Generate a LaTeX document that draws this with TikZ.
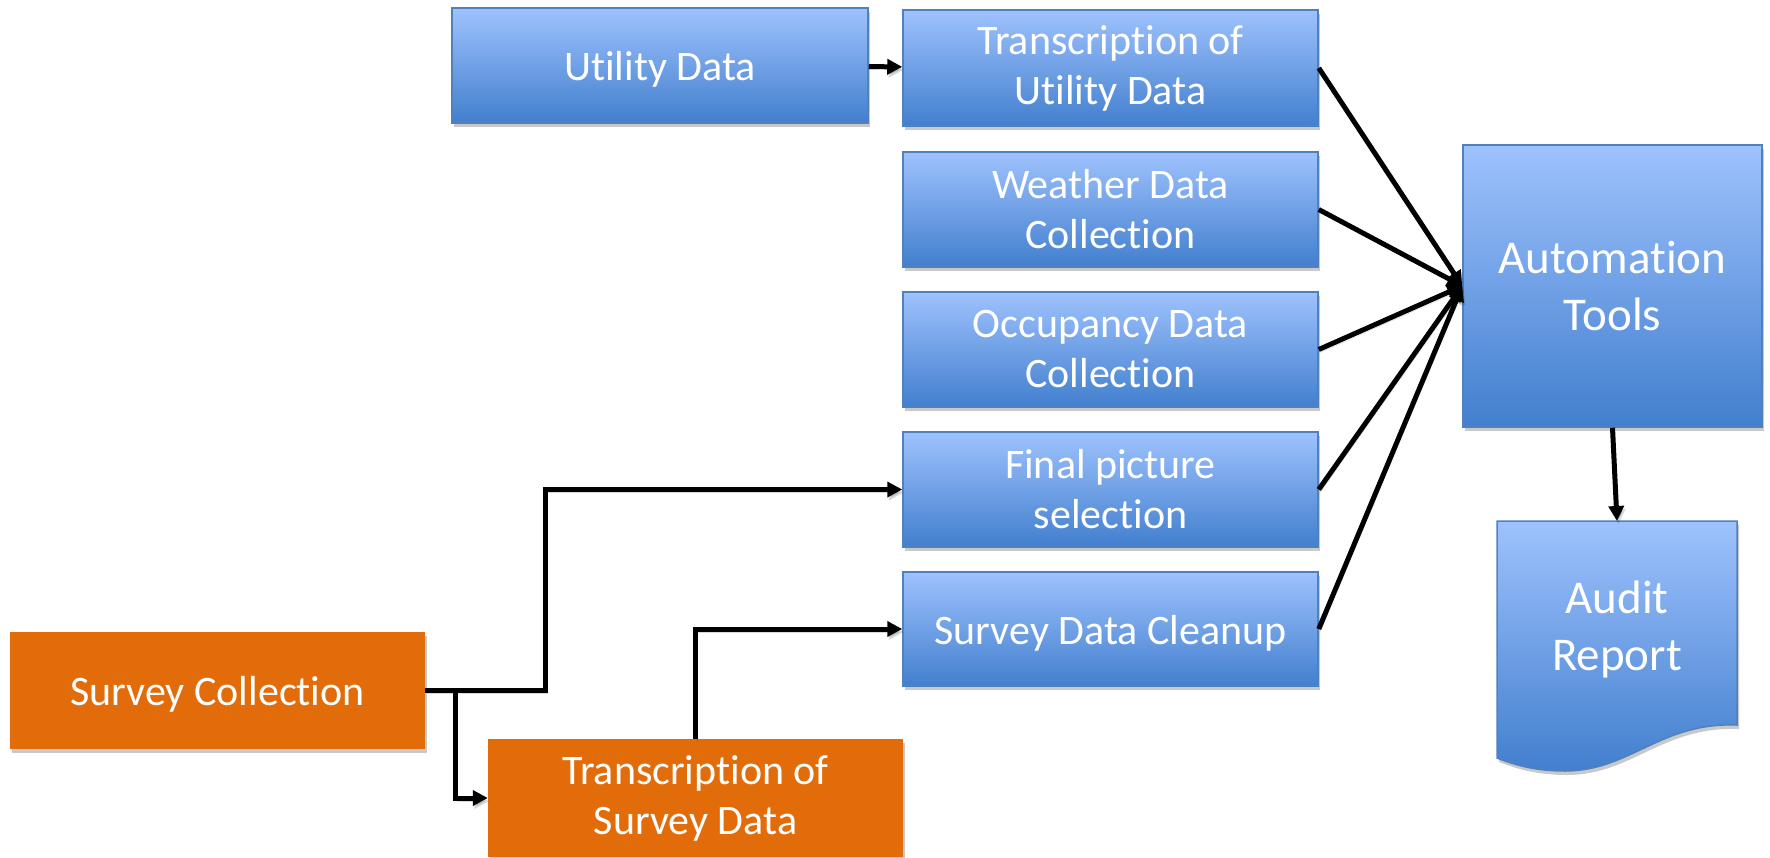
\documentclass[tikz,border=0pt]{standalone}
\usepackage{fontspec}
\setmainfont[Ligatures={NoCommon},RawFeature={-liga;-clig;-calt}]{Carlito}
\usetikzlibrary{arrows.meta,shadows}
\definecolor{bluetop}{RGB}{158,194,253}
\definecolor{bluebot}{RGB}{66,127,206}
\definecolor{blueedge}{RGB}{79,129,189}
\definecolor{orangefill}{RGB}{227,108,10}
\begin{document}
\begin{tikzpicture}[x=1pt,y=-1pt,
  boxshadow/.style={drop shadow={opacity=0.3,shadow xshift=2pt,shadow yshift=-4pt,fill=black!70}},
  bluebox/.style={rectangle, draw=blueedge, line width=1.5pt, top color=bluetop, bottom color=bluebot,
    text=white, align=center, font=\fontsize{42}{50}\selectfont, inner sep=0pt,
    minimum width=415pt, minimum height=115pt, boxshadow},
  orangebox/.style={rectangle, fill=orangefill, draw=none, text=white, align=center,
    font=\fontsize{42}{50}\selectfont, inner sep=0pt, minimum width=415pt, minimum height=117pt, boxshadow},
  oneline/.style={text height=38pt, text depth=8pt},
  bigtext/.style={text=white, align=center, font=\fontsize{47}{57}\selectfont, inner sep=0pt},
  conn/.style={line width=5pt, -{Triangle[length=15pt,width=15pt]}, line join=miter,
    preaction={draw=black, opacity=0.15, transform canvas={shift={(1.5pt,-3pt)}}}},
]
\useasboundingbox (0,0) rectangle (1770,857);

% nodes
\node[bluebox, oneline, minimum width=416pt] (utility) at (660,65.5) {Utility Data};
\node[bluebox, minimum height=116pt] (transUtil) at (1110.5,68) {Transcription of\\Utility Data};
\node[bluebox] (weather) at (1110.5,209.5) {Weather Data\\Collection};
\node[bluebox] (occup) at (1110.5,349.5) {Occupancy Data\\Collection};
\node[bluebox] (final) at (1110.5,489.5) {Final picture\\selection};
\node[bluebox, oneline, minimum height=114pt] (cleanup) at (1110.5,629) {Survey Data Cleanup};
\node[bluebox, bigtext, minimum width=299pt, minimum height=282pt] (auto) at (1612.5,286) {Automation\\Tools};

\node[orangebox, oneline] (survey) at (217.5,690.5) {Survey Collection};
\node[orangebox, minimum height=118pt] (transSurvey) at (695.5,798) {Transcription of\\Survey Data};

% audit report document shape
\path[draw=blueedge, line width=1.5pt, top color=bluetop, bottom color=bluebot, boxshadow]
  (1497,521) -- (1737,521) -- (1737,725)
  .. controls (1660,722) and (1630,771) .. (1565,771)
  .. controls (1535,771) and (1515,765) .. (1497,758) -- cycle;
\node[bigtext] (audit) at (1617,629) {Audit\\Report};
\coordinate (auditTop) at (1617,521);

% connectors
\draw[conn] (utility) -- (transUtil);
\draw[conn] (transUtil.east) -- (auto.west);
\draw[conn] (weather.east) -- (auto.west);
\draw[conn] (occup.east) -- (auto.west);
\draw[conn] (final.east) -- (auto.west);
\draw[conn] (cleanup.east) -- (auto.west);
\draw[conn] (auto.south) -- (auditTop);

\draw[conn] (survey.east) -- ([xshift=120pt]survey.east) |- (final.west);
\draw[conn] ([xshift=30pt]survey.east) |- (transSurvey.west);
\draw[conn] (transSurvey.north) |- (cleanup.west);
\end{tikzpicture}
\end{document}
